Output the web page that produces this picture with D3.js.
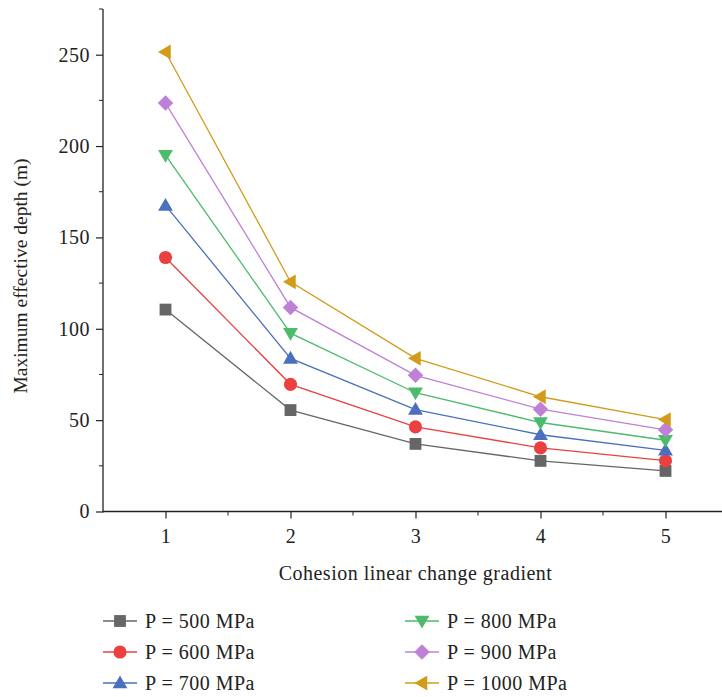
<!DOCTYPE html>
<html>
<head>
<meta charset="utf-8">
<script src="https://cdn.jsdelivr.net/npm/d3@7"></script>
<style>
  body { margin: 0; background: #fff; }
  svg text { font-family: "Liberation Serif", "Times New Roman", Times, "DejaVu Serif", serif; fill: #222; }
</style>
</head>
<body>
<div id="chart"></div>
<script>
const gradient = [1, 2, 3, 4, 5];
const labels = ["P = 500 MPa", "P = 600 MPa", "P = 700 MPa", "P = 800 MPa", "P = 900 MPa", "P = 1000 MPa"];
const colors = ["#666666", "#ea4040", "#4a70be", "#4cbb6c", "#c080d8", "#d29c1a"];
const p500 = [110.5, 55.5, 37, 27.7, 22.2];
const p600 = [139, 69.6, 46.3, 34.8, 27.8];
const p700 = [167.5, 83.8, 55.8, 42, 33.5];
const p800 = [195, 97.6, 65, 48.7, 39];
const p900 = [223.5, 111.7, 74.5, 56, 44.7];
const p1000 = [251.5, 125.7, 83.8, 62.8, 50.3];
const series = [p500, p600, p700, p800, p900, p1000];
const yMajor = [0, 50, 100, 150, 200, 250];
const yMinor = [25, 75, 125, 175, 225, 275];
const xMinor = [1.5, 2.5, 3.5, 4.5, 5.5];

const width = 722, height = 697;
const mLeft = 103, mTop = 9, mBottom = 511.5;

const svg = d3.select("#chart").append("svg")
  .attr("width", width)
  .attr("height", height);

const x = d3.scaleLinear().domain([0.5, 5.5]).range([mLeft, mLeft + 625]);
const y = d3.scaleLinear().domain([0, 275]).range([mBottom, mTop]);

// symbols: square, circle, up, down, diamond, left
const shapes = [d3.symbolSquare, d3.symbolCircle, d3.symbolTriangle, d3.symbolTriangle, d3.symbolSquare, d3.symbolTriangle];
const sizes = [140, 135, 95, 95, 120, 95];
const rotate = [0, 0, 0, 180, 45, -90];
function marker(g, i) {
  g.append("path")
    .attr("d", d3.symbol().type(shapes[i]).size(sizes[i]))
    .attr("transform", "rotate(" + rotate[i] + ")" + (i == 2 || i == 3 || i == 5 ? " translate(0,1)" : ""))
    .attr("fill", colors[i]);
}

// axes
const xAxis = svg.append("g")
  .attr("transform", "translate(0," + mBottom + ")")
  .call(d3.axisBottom(x).tickValues(gradient).tickSize(7).tickPadding(10).tickFormat(d3.format("d")));
xAxis.append("g").selectAll("line").data(xMinor).enter().append("line")
  .attr("x1", d => x(d)).attr("x2", d => x(d)).attr("y1", 0).attr("y2", 4)
  .attr("stroke", "#222");

const yAxis = svg.append("g")
  .attr("transform", "translate(" + mLeft + ",0)")
  .call(d3.axisLeft(y).tickValues(yMajor).tickSize(7).tickPadding(6));
yAxis.append("g").selectAll("line").data(yMinor).enter().append("line")
  .attr("y1", d => y(d)).attr("y2", d => y(d)).attr("x1", 0).attr("x2", -4)
  .attr("stroke", "#222");

svg.selectAll(".domain").attr("stroke", "#222").attr("stroke-width", 1.3);
svg.selectAll(".tick line").attr("stroke", "#222").attr("stroke-width", 1.2);
xAxis.selectAll(".domain").attr("d", "M" + mLeft + ",0H" + (mLeft + 625));
yAxis.selectAll(".domain").attr("d", "M0," + (mBottom + 1) + "V" + mTop);
xAxis.attr("font-family", null);
yAxis.attr("font-family", null);
svg.selectAll(".tick text").attr("font-size", 20).attr("letter-spacing", 0.5).attr("fill", "#222");

svg.append("text")
  .attr("x", x(3))
  .attr("y", 580)
  .attr("text-anchor", "middle")
  .attr("font-size", 20)
  .attr("letter-spacing", 0.5)
  .text("Cohesion linear change gradient");

svg.append("text")
  .attr("transform", "translate(27,276) rotate(-90)")
  .attr("text-anchor", "middle")
  .attr("font-size", 19.5)
  .text("Maximum effective depth (m)");

// lines
const line = d3.line().x((d, i) => x(gradient[i])).y(d => y(d));
series.forEach((s, i) => {
  svg.append("path")
    .datum(s)
    .attr("d", line)
    .attr("fill", "none")
    .attr("stroke", colors[i])
    .attr("stroke-width", 1.3);
});
series.forEach((s, i) => {
  s.forEach((v, j) => {
    const g = svg.append("g").attr("transform", "translate(" + x(gradient[j]) + "," + y(v) + ")");
    marker(g, i);
  });
});

// legend
const legend = svg.append("g");
labels.forEach((lab, i) => {
  const col = Math.floor(i / 3), row = i % 3;
  const lx = 103 + col * 302, ly = 621 + row * 31;
  const g = legend.append("g").attr("transform", "translate(" + lx + "," + ly + ")");
  g.append("line").attr("x1", 0).attr("x2", 34).attr("y1", 0).attr("y2", 0)
    .attr("stroke", colors[i]).attr("stroke-width", 1.3);
  const m = g.append("g").attr("transform", "translate(17,0)");
  marker(m, i);
  g.append("text").attr("x", 42).attr("y", 7).attr("font-size", 20).attr("letter-spacing", 0.5).text(lab);
});
</script>
</body>
</html>
